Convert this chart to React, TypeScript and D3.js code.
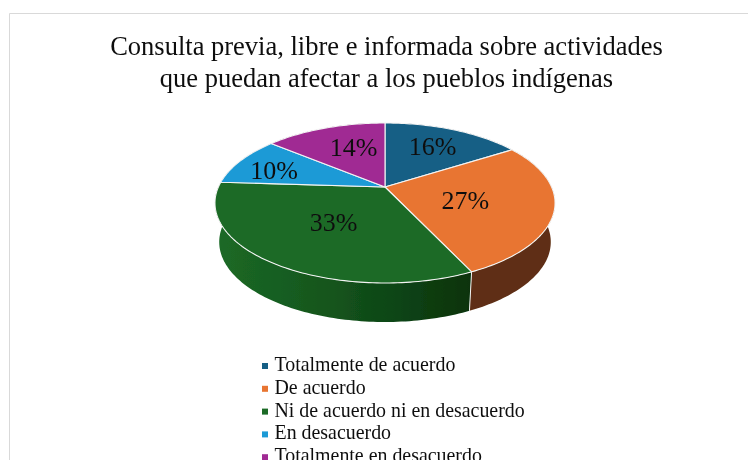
import React from "react";
import * as d3 from "d3";

const categories = ["Totalmente de acuerdo", "De acuerdo", "Ni de acuerdo ni en desacuerdo", "En desacuerdo", "Totalmente en desacuerdo"];
const values = [16, 27, 33, 10, 14];
const topColors = ["#155f85", "#e87530", "#1a6b26", "#1b9ad6", "#a02b93"];
const sideColors = ["#0c3a52", "#5e2f14", "#0f4416", "#10607f", "#621a5a"];
const titleLines = ["Consulta previa, libre e informada sobre actividades", "que puedan afectar a los pueblos indígenas"];
const labelNudges: [number, number][] = [[4, -4], [-19, 0], [11, -7], [-22, 0], [7, -2]];

const W = 748, H = 460;
const cx = 385, cy = 187, a = 166.6, b = 76.8, k = 0.2, depth = 39, bottomScale = 0.975;
const serif = "'Liberation Serif', 'Times New Roman', serif";

function project(angle: number, r = 1): [number, number] {
  const u = r * Math.sin(angle), v = r * Math.cos(angle);
  const d = 1 + k * v;
  return [cx + (a * u) / d, cy - (b * v) / d];
}
function projectBottom(angle: number): [number, number] {
  const [x, y] = project(angle);
  return [cx + (x - cx) * bottomScale, y + depth];
}
function samples(start: number, end: number): number[] {
  const n = Math.max(2, Math.ceil((end - start) / 0.02));
  return d3.range(n + 1).map((i) => start + ((end - start) * i) / n);
}

const arcs = d3.pie<number>().sort(null).value((d) => d)(values);
const line = d3.line();

export default function App() {
  return (
    <svg width={W} height={H} viewBox={`0 0 ${W} ${H}`} style={{ position: "fixed", left: 0, top: 0, background: "#fff" }}>
      <defs>
        <linearGradient id="greenSide" gradientUnits="userSpaceOnUse" x1="214" x2="470" y1="0" y2="0">
          <stop offset="0" stopColor="#1c6a26" />
          <stop offset="0.45" stopColor="#14551d" />
          <stop offset="1" stopColor="#07330c" />
        </linearGradient>
        <filter id="soft" x="-5%" y="-5%" width="110%" height="110%">
          <feGaussianBlur stdDeviation="0.35" />
        </filter>
      </defs>
      <path d={`M9.5 460V13.5H748`} fill="none" stroke="#d9d9d9" strokeWidth={1} />
      <g fontFamily={serif} fill="#111" filter="url(#soft)">
        {titleLines.map((t, i) => (
          <text key={t} x={386.5} y={55 + i * 32} textAnchor="middle" fontSize={26.5}>{t}</text>
        ))}
      </g>
      <g filter="url(#soft)">
        {arcs.map((s, i) => {
          const ang = samples(s.startAngle, s.endAngle);
          const pts = [...ang.map((t) => project(t)), ...ang.slice().reverse().map(projectBottom)];
          return <path key={i} d={line(pts) + "Z"} fill={i === 2 ? "url(#greenSide)" : sideColors[i]} />;
        })}
        {arcs.map((s, i) => {
          const [x0, y0] = project(s.endAngle);
          const [x1, y1] = projectBottom(s.endAngle);
          return i === 1 ? <line key={i} x1={x0} y1={y0} x2={x1} y2={y1} stroke="#f2f2f2" strokeWidth={1} /> : null;
        })}
        {arcs.map((s, i) => {
          const pts = samples(s.startAngle, s.endAngle).map((t) => project(t));
          return <path key={i} d={line([[cx, cy], ...pts]) + "Z"} fill={topColors[i]} stroke="#f4f4f4" strokeWidth={1.1} strokeLinejoin="round" />;
        })}
      </g>
      <g fontFamily={serif} fontSize={26} fill="#111" textAnchor="middle" filter="url(#soft)">
        {arcs.map((s, i) => {
          const [x, y] = project((s.startAngle + s.endAngle) / 2, 0.6);
          return (
            <text key={i} x={x + labelNudges[i][0]} y={y + labelNudges[i][1]} dominantBaseline="central">
              {`${values[i]}%`}
            </text>
          );
        })}
      </g>
      <g fontFamily={serif} fontSize={19.9} fill="#111" filter="url(#soft)">
        {categories.map((c, i) => (
          <g key={c} transform={`translate(0,${371 + i * 22.8})`}>
            <rect x={262} y={-8} width={6} height={6} fill={topColors[i]} />
            <text x={274.5} y={0}>{c}</text>
          </g>
        ))}
      </g>
    </svg>
  );
}
